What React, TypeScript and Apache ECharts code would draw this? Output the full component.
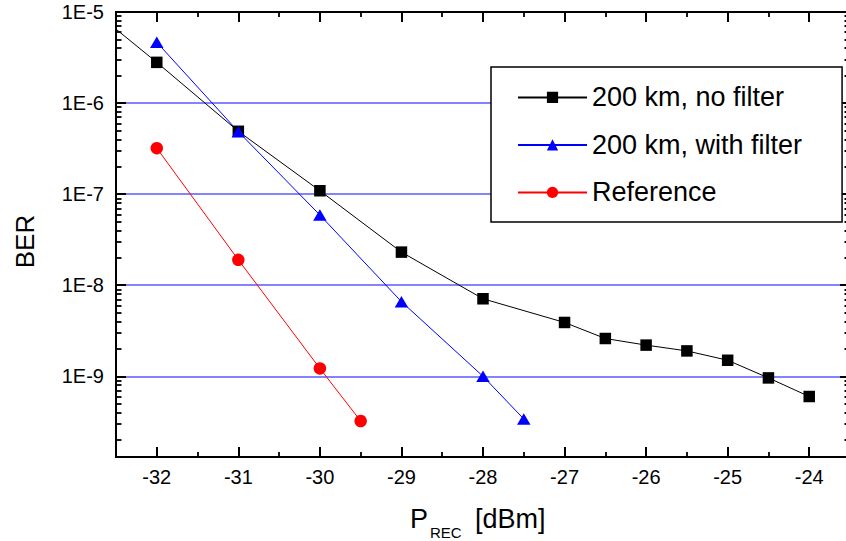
import React, { useEffect, useRef } from 'react';
import * as echarts from 'echarts';

// ---- data ----
const xNoFilter = [-33, -32, -31, -30, -29, -28, -27, -26.5, -26, -25.5, -25, -24.5, -24];
const berNoFilter = [1.5e-5, 2.8e-6, 4.9e-7, 1.09e-7, 2.31e-8, 7.1e-9, 3.9e-9, 2.6e-9, 2.2e-9, 1.9e-9, 1.5e-9, 9.6e-10, 6.0e-10];

const xWithFilter = [-32, -31, -30, -29, -28, -27.5];
const berWithFilter = [4.65e-6, 4.85e-7, 5.9e-8, 6.6e-9, 1.0e-9, 3.4e-10];

const xReference = [-32, -31, -30, -29.5];
const berReference = [3.2e-7, 1.9e-8, 1.22e-9, 3.23e-10];

const seriesNames = ['200 km, no filter', '200 km, with filter', 'Reference'];

// ---- axes ----
const xMin = -32.5;
const xMax = -23.5;
const xTicks = [-32, -31, -30, -29, -28, -27, -26, -25, -24];
const xMinorTicks = [-31.5, -30.5, -29.5, -28.5, -27.5, -26.5, -25.5, -24.5];
const yMin = 1.3e-10;
const yMax = 1e-5;
const yTicks = [1e-9, 1e-8, 1e-7, 1e-6, 1e-5];
const yDecades = [1e-10, 1e-9, 1e-8, 1e-7, 1e-6];
const yMantissas = [2, 3, 4, 5, 6, 7, 8, 9];
const yMinorTicks = yDecades.flatMap((d) => yMantissas.map((m) => m * d));

const FONT = '"Liberation Sans", Arial, Helvetica, sans-serif';

const pairs = (xs: number[], ys: number[]) => xs.map((x, i) => [x, ys[i]]);

const fmtPow = (v: number) => {
  const e = Math.round(Math.log10(v));
  if (Math.abs(v / Math.pow(10, e) - 1) < 1e-6) return '1E' + e;
  return '';
};

export default function App() {
  const ref = useRef<HTMLDivElement>(null);

  useEffect(() => {
    if (!ref.current) return;
    const chart = echarts.init(ref.current, undefined, { renderer: 'svg' });

    const axisLine = { show: true, onZero: false, lineStyle: { color: '#000', width: 2 } };
    const majorTick = (values: number[], len: number) => ({
      show: true,
      inside: true,
      length: len,
      customValues: values,
      lineStyle: { color: '#000', width: 2 },
    });
    const minorTickAxis = (values: number[], len: number) => ({
      show: true,
      inside: true,
      length: len,
      customValues: values,
      lineStyle: { color: '#000', width: 1.8 },
    });

    const xBase = { type: 'value', min: xMin, max: xMax, splitLine: { show: false } };
    const yBase = { type: 'log', min: yMin, max: yMax, logBase: 10, splitLine: { show: false } };

    const option: any = {
      animation: false,
      backgroundColor: '#fff',
      grid: { left: 116, right: -4, top: 12, bottom: 84, outerBoundsMode: 'none', containLabel: false },
      xAxis: [
        {
          ...xBase,
          position: 'bottom',
          axisLine,
          axisTick: majorTick(xTicks, 10),
          axisLabel: {
            customValues: xTicks,
            margin: 10,
            color: '#000',
            fontSize: 20,
            fontFamily: FONT,
          },
        },
        {
          ...xBase,
          position: 'bottom',
          axisLine,
          axisTick: minorTickAxis(xMinorTicks, 5),
          axisLabel: { show: false },
        },
        {
          ...xBase,
          position: 'top',
          axisLine,
          axisTick: majorTick(xTicks, 10),
          axisLabel: { show: false },
        },
        {
          ...xBase,
          position: 'top',
          axisLine,
          axisTick: minorTickAxis(xMinorTicks, 5),
          axisLabel: { show: false },
        },
      ],
      yAxis: [
        {
          ...yBase,
          position: 'left',
          axisLine,
          axisTick: majorTick(yTicks, 10),
          axisLabel: {
            customValues: yTicks,
            formatter: fmtPow,
            margin: 12,
            color: '#000',
            fontSize: 20,
            fontFamily: FONT,
          },
          splitLine: {
            show: true,
            showMinLine: true,
            showMaxLine: false,
            lineStyle: { color: '#5a5aff', width: 1.5 },
          },
        },
        {
          ...yBase,
          position: 'left',
          axisLine,
          axisTick: minorTickAxis(yMinorTicks, 5.5),
          axisLabel: { show: false },
        },
        {
          ...yBase,
          position: 'right',
          axisLine,
          axisTick: majorTick(yTicks, 10),
          axisLabel: { show: false },
        },
        {
          ...yBase,
          position: 'right',
          axisLine,
          axisTick: minorTickAxis(yMinorTicks, 5.5),
          axisLabel: { show: false },
        },
      ],
      legend: {
        show: true,
        orient: 'vertical',
        left: 491,
        top: 67,
        itemWidth: 69,
        itemHeight: 14,
        itemGap: 17.5,
        padding: [15.4, 40, 14.6, 26],
        backgroundColor: '#fff',
        borderColor: '#000',
        borderWidth: 1.5,
        borderRadius: 0,
        data: seriesNames,
        textStyle: { color: '#000', fontSize: 27, lineHeight: 30, fontFamily: FONT },
        z: 10,
      },
      series: [
        {
          name: seriesNames[0],
          type: 'line',
          data: pairs(xNoFilter, berNoFilter),
          symbol: 'rect',
          symbolSize: 11.5,
          clip: true,
          lineStyle: { color: '#000', width: 1 },
          itemStyle: { color: '#000' },
        },
        {
          name: seriesNames[1],
          type: 'line',
          data: pairs(xWithFilter, berWithFilter),
          symbol: 'triangle',
          symbolSize: [13.5, 11.5],
          clip: true,
          lineStyle: { color: '#0000ff', width: 1 },
          itemStyle: { color: '#0000ff' },
        },
        {
          name: seriesNames[2],
          type: 'line',
          data: pairs(xReference, berReference),
          symbol: 'circle',
          symbolSize: 12.5,
          clip: true,
          lineStyle: { color: '#ff0000', width: 1 },
          itemStyle: { color: '#ff0000' },
        },
      ],
      graphic: [
        {
          type: 'text',
          x: 24.5,
          y: 241.5,
          rotation: Math.PI / 2,
          style: {
            text: 'BER',
            fill: '#000',
            fontSize: 26,
            fontFamily: FONT,
            align: 'center',
            verticalAlign: 'middle',
          },
        },
        {
          type: 'text',
          x: 410,
          y: 519.3,
          style: { text: 'P', fill: '#000', fontSize: 27, fontFamily: FONT, align: 'left', verticalAlign: 'middle' },
        },
        {
          type: 'text',
          x: 430,
          y: 532,
          style: { text: 'REC', fill: '#000', fontSize: 15, fontFamily: FONT, align: 'left', verticalAlign: 'middle' },
        },
        {
          type: 'text',
          x: 475,
          y: 519.3,
          style: { text: '[dBm]', fill: '#000', fontSize: 27, fontFamily: FONT, align: 'left', verticalAlign: 'middle' },
        },
      ],
    };

    chart.setOption(option);
    return () => chart.dispose();
  }, []);

  return (
    <div
      ref={ref}
      style={{ position: 'fixed', left: 0, top: 0, width: 846, height: 541, overflow: 'hidden' }}
    />
  );
}
